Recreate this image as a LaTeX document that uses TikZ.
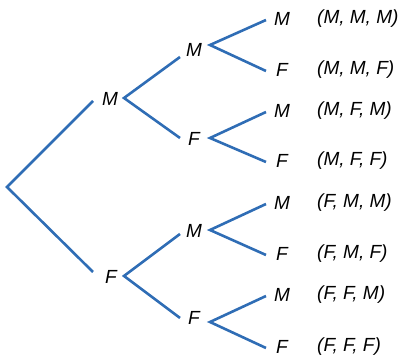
\documentclass[tikz,border=0pt]{standalone}
\usepackage{fontspec}
\setmainfont{Liberation Sans}
\begin{document}
\begin{tikzpicture}[x=1pt,y=-1pt,
  br/.style={draw=brc,line width=2.6pt},
  lab/.style={font=\fontsize{19}{22}\selectfont\itshape,inner sep=0pt},
  tup/.style={font=\fontsize{19}{22}\selectfont\itshape,inner sep=0pt,anchor=west}]
\definecolor{brc}{HTML}{2F6DB5}
\useasboundingbox (0,0) rectangle (400,358);
% root
\coordinate (r) at (7,187);
% level 1
\node[lab] (m1) at (110,99) {M};
\node[lab] (f1) at (111,277) {F};
\coordinate (m1in) at (93,101);
\coordinate (f1in) at (93,272);
\coordinate (m1out) at (124,98);
\coordinate (f1out) at (124,276);
% level 2
\node[lab] (mm) at (194,50) {M};
\node[lab] (mf) at (194,139) {F};
\node[lab] (fm) at (194,231) {M};
\node[lab] (ff) at (194,318) {F};
\coordinate (mmin) at (180,57);
\coordinate (mfin) at (180,138);
\coordinate (fmin) at (180,234);
\coordinate (ffin) at (180,318);
\coordinate (mmout) at (210,45);
\coordinate (mfout) at (210,138);
\coordinate (fmout) at (210,230);
\coordinate (ffout) at (210,322);
% level 3
\foreach \n/\t/\y/\s in {mmm/M/19/{M, M, M},mmf/F/70/{M, M, F},mfm/M/111/{M, F, M},mff/F/161/{M, F, F},fmm/M/203/{F, M, M},fmf/F/254/{F, M, F},ffm/M/295/{F, F, M},fff/F/347/{F, F, F}}{
  \node[lab] (\n) at (282,\y) {\t};
  \coordinate (\n-in) at (266,\y+1);
  \node[tup] (\n-tup) at (317,\y) {(\s)};
}
\draw[br] (m1in) -- (r) -- (f1in);
\draw[br] (mmin) -- (m1out) -- (mfin);
\draw[br] (fmin) -- (f1out) -- (ffin);
\draw[br] (mmm-in) -- (mmout) -- (mmf-in);
\draw[br] (mfm-in) -- (mfout) -- (mff-in);
\draw[br] (fmm-in) -- (fmout) -- (fmf-in);
\draw[br] (ffm-in) -- (ffout) -- (fff-in);
\end{tikzpicture}
\end{document}
